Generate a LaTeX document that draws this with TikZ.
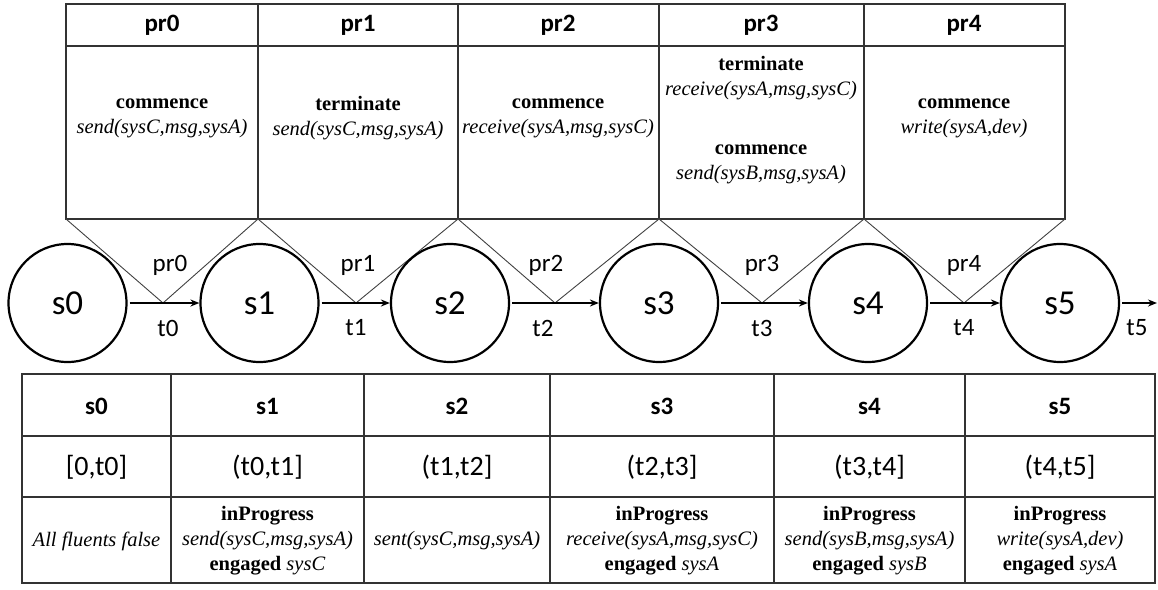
\documentclass[tikz,border=0pt]{standalone}
\usepackage{fontspec}
\setmainfont{Liberation Serif}
\newfontfamily\calfont{Carlito}
\usetikzlibrary{arrows.meta}
\begin{document}
\begin{tikzpicture}[x=1pt,y=-1pt,
  tbl/.style={draw=black!80, line width=1.3pt},
  zig/.style={draw=black!75, line width=0.9pt},
  state/.style={circle, draw=black, line width=2.2pt, minimum size=118pt, inner sep=0pt, font=\calfont\fontsize{35}{40}\selectfont},
  flow/.style={line width=2pt, -{Stealth[length=9pt,width=7pt]}, shorten <=2pt},
  lbl/.style={font=\calfont\fontsize{25}{30}\selectfont, inner sep=0pt},
  hdr/.style={font=\calfont\bfseries\fontsize{25}{28}\selectfont, inner sep=0pt},
  ivl/.style={font=\calfont\fontsize{28}{32}\selectfont, inner sep=0pt},
  cell/.style={font=\fontsize{20.5}{25}\selectfont, align=center, inner sep=0pt},
]
\useasboundingbox (0,0) rectangle (1158,589);

% ---------- top table ----------
\coordinate (TL) at (66,4);
\coordinate (BR) at (1065,219);
\draw[tbl] (TL) rectangle (BR);
\draw[tbl] (66,46) -- (1065,46);
\foreach \x in {258,458,659,864} \draw[tbl] (\x,4) -- (\x,219);

\node[hdr] (hp0) at (162,25) {pr0};
\node[hdr] (hp1) at (358,25) {pr1};
\node[hdr] (hp2) at (558,25) {pr2};
\node[hdr] (hp3) at (761,25) {pr3};
\node[hdr] (hp4) at (964,25) {pr4};

\node[cell] (cp0) at (162,118) {\textbf{commence}\\\textit{send(sysC,msg,sysA)}};
\node[cell] (cp1) at (358,118) {\textbf{terminate}\\\textit{send(sysC,msg,sysA)}};
\node[cell] (cp2) at (558,118) {\textbf{commence}\\\textit{receive(sysA,msg,sysC)}};
\node[cell] (cp3) at (761,120) {\textbf{terminate}\\\textit{receive(sysA,msg,sysC)}\\[34pt]\textbf{commence}\\\textit{send(sysB,msg,sysA)}};
\node[cell] (cp4) at (964,118) {\textbf{commence}\\\textit{write(sysA,dev)}};

% ---------- zigzag ----------
\coordinate (c0) at (66,219);
\coordinate (c1) at (258,219);
\coordinate (c2) at (458,219);
\coordinate (c3) at (659,219);
\coordinate (c4) at (864,219);
\coordinate (c5) at (1065,219);
\coordinate (t0) at (163,303);
\coordinate (t1) at (356,303);
\coordinate (t2) at (555,303);
\coordinate (t3) at (762,303);
\coordinate (t4) at (964,303);
\draw[zig] (c0) -- (t0) -- (c1) -- (t1) -- (c2) -- (t2) -- (c3) -- (t3) -- (c4) -- (t4) -- (c5);

% ---------- states ----------
\node[state] (s0) at (67.5,303) {s0};
\node[state] (s1) at (259.5,303) {s1};
\node[state] (s2) at (450,303) {s2};
\node[state] (s3) at (659,303) {s3};
\node[state] (s4) at (868,303) {s4};
\node[state] (s5) at (1060,303) {s5};
\coordinate (tend) at (1157,303);

\draw[flow] (s0) -- (s1);
\draw[flow] (s1) -- (s2);
\draw[flow] (s2) -- (s3);
\draw[flow] (s3) -- (s4);
\draw[flow] (s4) -- (s5);
\draw[flow] (s5) -- (tend);

\node[lbl] (lp0) at (170,265) {pr0};
\node[lbl] (lp1) at (358,265) {pr1};
\node[lbl] (lp2) at (546,265) {pr2};
\node[lbl] (lp3) at (762,265) {pr3};
\node[lbl] (lp4) at (964,265) {pr4};
\node[lbl] (lt0) at (168,328) {t0};
\node[lbl] (lt1) at (356,328) {t1};
\node[lbl] (lt2) at (543,328) {t2};
\node[lbl] (lt3) at (762,328) {t3};
\node[lbl] (lt4) at (964,328) {t4};
\node[lbl] (lt5) at (1137,328) {t5};

% ---------- bottom table ----------
\draw[tbl] (22,374) rectangle (1155,583);
\draw[tbl] (22,436) -- (1155,436);
\draw[tbl] (22,497) -- (1155,497);
\foreach \x in {171,364,550,774,965} \draw[tbl] (\x,374) -- (\x,583);

\node[hdr] (hs0) at (96.5,406) {s0};
\node[hdr] (hs1) at (267.5,406) {s1};
\node[hdr] (hs2) at (457,406) {s2};
\node[hdr] (hs3) at (662,406) {s3};
\node[hdr] (hs4) at (869.5,406) {s4};
\node[hdr] (hs5) at (1060,406) {s5};

\node[ivl] (is0) at (96.5,467) {[0,t0]};
\node[ivl] (is1) at (267.5,467) {(t0,t1]};
\node[ivl] (is2) at (457,467) {(t1,t2]};
\node[ivl] (is3) at (662,467) {(t2,t3]};
\node[ivl] (is4) at (869.5,467) {(t3,t4]};
\node[ivl] (is5) at (1060,467) {(t4,t5]};

\node[cell] (fs0) at (96.5,541) {\textit{All fluents false}};
\node[cell] (fs1) at (267.5,541) {\textbf{inProgress}\\\textit{send(sysC,msg,sysA)}\\\textbf{engaged} \textit{sysC}};
\node[cell] (fs2) at (457,541) {\textit{sent(sysC,msg,sysA)}};
\node[cell] (fs3) at (662,541) {\textbf{inProgress}\\\textit{receive(sysA,msg,sysC)}\\\textbf{engaged} \textit{sysA}};
\node[cell] (fs4) at (869.5,541) {\textbf{inProgress}\\\textit{send(sysB,msg,sysA)}\\\textbf{engaged} \textit{sysB}};
\node[cell] (fs5) at (1060,541) {\textbf{inProgress}\\\textit{write(sysA,dev)}\\\textbf{engaged} \textit{sysA}};
\end{tikzpicture}
\end{document}
